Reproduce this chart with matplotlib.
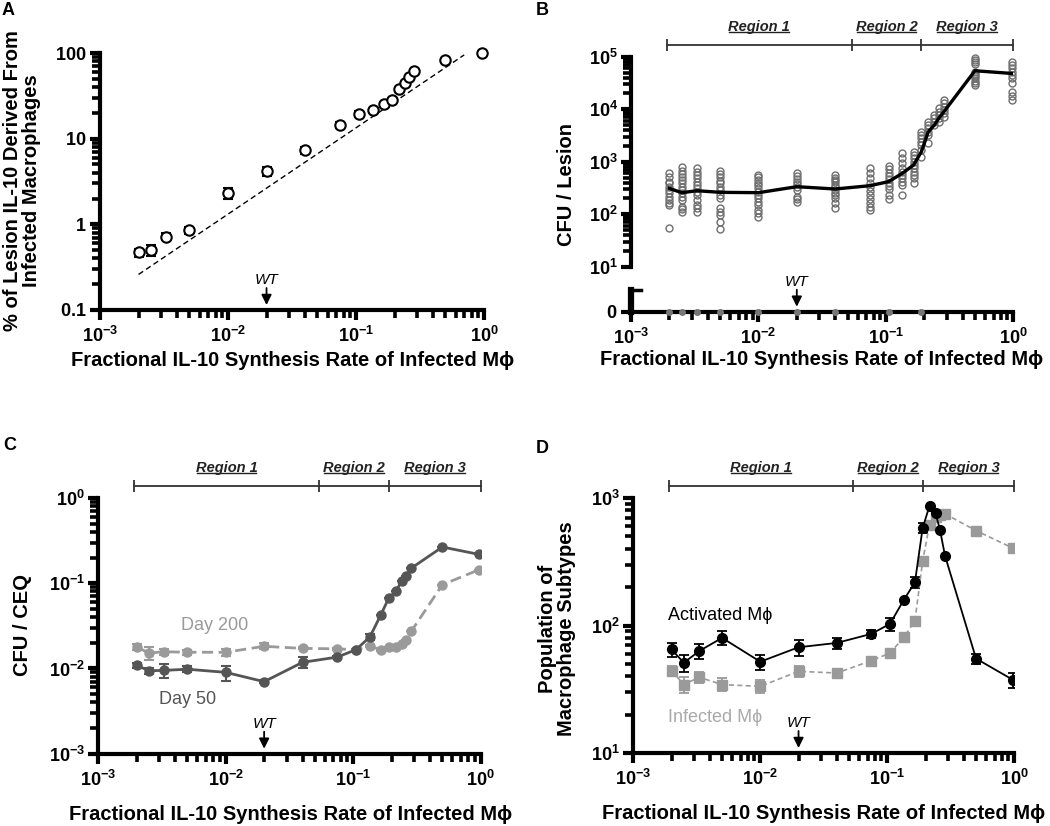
import math
import matplotlib
matplotlib.use("Agg")
import matplotlib.pyplot as plt
import matplotlib.transforms as mtransforms
from matplotlib import ticker
from matplotlib.lines import Line2D

plt.rcParams['font.family'] = ['Liberation Sans', 'DejaVu Sans']
plt.rcParams['mathtext.fontset'] = 'custom'
plt.rcParams['mathtext.rm'] = 'Liberation Sans'
plt.rcParams['mathtext.bf'] = 'Liberation Sans:bold'
plt.rcParams['mathtext.it'] = 'Liberation Sans:italic'

# ---------------- data ----------------
rate = [0.002, 0.0025, 0.0033, 0.005, 0.01, 0.02, 0.04, 0.075, 0.105,
        0.135, 0.165, 0.19, 0.215, 0.24, 0.26, 0.285, 0.5, 0.97]

# A: % of lesion IL-10 from infected macrophages
pct_il10 = [0.47, 0.50, 0.72, 0.85, 2.3, 4.2, 7.4, 14.5, 19.6, 21.6, 25.4,
            28.3, 37.7, 45, 53, 61.6, 83, 99]
pct_err = [0.05, 0.07, 0.07, 0.08, 0.35, 0.5, 0.7, 1.3, 1.6, 0, 0, 0, 0,
           0, 0, 0, 0, 0]
fit_x = [0.002, 0.7]
fit_y = [0.26, 95]

# B: CFU per lesion (each column = one rate)
cfu_cols = [
    [620, 517, 416, 388, 334, 289, 250, 215, 186, 161, 150, 54],
    [782, 674, 584, 505, 448, 388, 334, 289, 250, 215, 186, 139, 124, 112],
    [748, 646, 558, 483, 416, 360, 311, 269, 232, 186, 150, 129, 112],
    [674, 584, 505, 435, 388, 334, 289, 232, 201, 129, 112, 97, 72, 52],
    [558, 505, 448, 398, 360, 311, 269, 232, 201, 173, 150, 120, 104, 90],
    [601, 535, 475, 416, 371, 325, 289, 215, 192, 173],
    [558, 497, 448, 405, 360, 325, 289, 257, 229, 201, 161, 133],
    [748, 601, 483, 388, 334, 281, 232, 195, 161, 139, 120],
    [828, 716, 617, 535, 462, 398, 344, 298, 232, 192],
    [1445, 1161, 933, 748, 646, 558, 483, 416, 360, 232],
    [1549, 1343, 1161, 1000, 865, 748, 646, 558, 483, 388],
    [3726, 3228, 2793, 2404, 2080, 1671, 1245],
    [5780, 5000, 4325, 3726, 3228, 2240],
    [7745, 6710, 5780, 5000],
    [10400, 8950, 7745, 6710, 5780],
    [14960, 12900, 11170, 9640, 8340, 7200],
    [93000, 86000, 80000, 74000, 52000, 47000, 43000, 39000, 35000, 31000, 29000],
    [80400, 69500, 60100, 51800, 44800, 38800, 31100, 21500, 17800, 15000],
]
cfu_median = [310, 257, 280, 261, 257, 334, 302, 349, 417, 603, 865, 1550,
              3700, 5000, 6700, 8900, 54000, 48000]
zero_rates = [0.002, 0.0025, 0.0033, 0.005, 0.01, 0.02, 0.04, 0.105, 0.19]
zero_cfu = [0, 0, 0, 0, 0, 0, 0, 0, 0]

# C: CFU / CEQ
day50 = [0.0109, 0.0094, 0.0095, 0.0098, 0.0090, 0.0070, 0.0118, 0.0136,
         0.0166, 0.0234, 0.0428, 0.067, 0.080, 0.105, 0.12, 0.15, 0.266, 0.218]
day50_err = [0.0008, 0.0008, 0.0018, 0.0008, 0.0018, 0.0003, 0.0018, 0.0005,
             0.0005, 0.002, 0, 0, 0, 0, 0, 0, 0, 0]
day200 = [0.0178, 0.0152, 0.0157, 0.0155, 0.0155, 0.0182, 0.0172, 0.0170,
          0.0166, 0.0183, 0.0166, 0.0177, 0.0180, 0.0193, 0.0217, 0.0272,
          0.096, 0.144]
day200_err = [0.0015, 0.0025, 0.0012, 0.001, 0.0015, 0.0015, 0.0005, 0.0005,
              0.0005, 0.0005, 0.0005, 0, 0, 0, 0, 0, 0, 0]

# D: macrophage subtypes
activated = [65, 51, 63, 80, 52, 67.5, 73, 86, 103, 159, 218, 585, 866, 759,
             561, 351, 55, 37.6]
activated_err = [8, 8, 8, 10, 7, 10, 7, 6, 12, 0, 20, 50, 0, 0, 0, 0, 5, 5]
infected = [44.3, 34.4, 39.3, 34.4, 33.3, 43.7, 42.4, 53, 60.8, 80.7, 109,
            322, 614, 713, 740, 750, 555, 405]
infected_err = [4, 5, 4, 4, 4, 4, 3, 4, 4, 0, 0, 0, 0, 0, 0, 0, 0, 0]

region_edges = [0.0019, 0.054, 0.19, 1.0]
region_names = ['Region 1', 'Region 2', 'Region 3']
wt_rate = 0.02

xlabel = 'Fractional IL-10 Synthesis Rate of Infected M\u03d5'

# ---------------- figure ----------------
W, H = 1050, 826
fig = plt.figure(figsize=(W / 100, H / 100), dpi=100)


def box(l, t, r, b):
    # pixel box (top-left origin) -> figure fraction
    return [l / W, 1 - b / H, (r - l) / W, (b - t) / H]


def minor_positions(lo, hi):
    out = []
    e = lo
    while 10.0 ** e < hi:
        out += [k * 10.0 ** e for k in range(2, 10)]
        e += 1
    return out


def sci_fmt(v, pos):
    return r'$\mathbf{10^{%d}}$' % round(math.log10(v))


def plain_fmt(v, pos):
    return r'$\mathbf{%g}$' % v


def style(ax, ylo, yhi):
    ax.set_xscale('log')
    ax.set_yscale('log')
    ax.set_xlim(1e-3, 1)
    ax.set_ylim(10.0 ** ylo, 10.0 ** yhi)
    for s in ['top', 'right']:
        ax.spines[s].set_visible(False)
    for s in ['left', 'bottom']:
        ax.spines[s].set_linewidth(3.0)
    ax.xaxis.set_major_locator(ticker.FixedLocator([1e-3, 1e-2, 1e-1, 1]))
    ax.xaxis.set_minor_locator(ticker.FixedLocator(minor_positions(-3, 1)))
    ax.yaxis.set_major_locator(ticker.FixedLocator([10.0 ** e for e in range(ylo, yhi + 1)]))
    ax.yaxis.set_minor_locator(ticker.FixedLocator(minor_positions(ylo, 10.0 ** yhi)))
    ax.xaxis.set_major_formatter(ticker.FuncFormatter(sci_fmt))
    ax.yaxis.set_major_formatter(ticker.FuncFormatter(sci_fmt))
    ax.xaxis.set_minor_formatter(ticker.NullFormatter())
    ax.yaxis.set_minor_formatter(ticker.NullFormatter())
    ax.tick_params(which='major', direction='out', length=7.5, width=3.0,
                   color='black', labelsize=13, pad=2)
    ax.tick_params(which='minor', direction='out', length=6, width=2.6,
                   color='black')
    ax.tick_params(axis='x', which='major', pad=4)


def add_wt(ax):
    ax.annotate('', xy=(wt_rate, 5), xycoords=('data', 'axes pixels'),
                xytext=(wt_rate, 22), textcoords=('data', 'axes pixels'),
                arrowprops=dict(arrowstyle='-|>', color='black', lw=1.3,
                                mutation_scale=15, shrinkA=0, shrinkB=0),
                annotation_clip=False)
    ax.annotate('WT', xy=(wt_rate, 30), xycoords=('data', 'axes pixels'),
                ha='center', va='center', fontsize=11, style='italic',
                annotation_clip=False)


region_texts = []


def add_regions(ax):
    t_line = mtransforms.offset_copy(ax.get_xaxis_transform(), fig=fig, x=0, y=12, units='dots')
    ax.plot([region_edges[0], region_edges[-1]], [1, 1], color='#333333', lw=1.3,
            transform=t_line, clip_on=False)
    ax.plot(region_edges, [1] * len(region_edges), ls='none', marker='|',
            markersize=8, mew=1.3, color='#333333', transform=t_line, clip_on=False)
    t_lab = mtransforms.offset_copy(ax.get_xaxis_transform(), fig=fig, x=0, y=30, units='dots')
    for i, name in enumerate(region_names):
        xc = (region_edges[i] * region_edges[i + 1]) ** 0.5
        t = ax.text(xc, 1, name, transform=t_lab, ha='center', va='center',
                    fontsize=10.5, style='italic', fontweight='bold', color='#222222',
                    clip_on=False)
        region_texts.append(t)


def panel_letter(x, y, s):
    fig.text(x / W, 1 - y / H, s, fontsize=13, fontweight='bold', va='baseline')


def xlab(cx, base):
    fig.text(cx / W, 1 - base / H, xlabel, ha='center', va='baseline',
             fontsize=14.5, fontweight='bold')


def ylab(cx, cy, s):
    fig.text(cx / W, 1 - cy / H, s, ha='center', va='center', rotation=90,
             fontsize=14.5, fontweight='bold', linespacing=1.05)


# ---- A ----
axA = fig.add_axes(box(100, 53, 484, 310))
style(axA, -1, 2)
axA.yaxis.set_major_formatter(ticker.FuncFormatter(plain_fmt))
axA.plot(fit_x, fit_y, ls=(0, (4, 2.5)), color='black', lw=1.0)
axA.errorbar(rate, pct_il10, yerr=pct_err, fmt='o', mfc='white', mec='black',
             mew=1.5, ms=7.5, ecolor='black', elinewidth=1.4, capsize=3.5,
             capthick=1.4, clip_on=False, zorder=3)
add_wt(axA)
panel_letter(2, 15, 'A')
xlab(293, 366)
ylab(22, 181, '% of Lesion IL-10 Derived From\nInfected Macrophages')

# ---- B ----
axB = fig.add_axes(box(631, 56.7, 1013.3, 266.7))
axB0 = fig.add_axes(box(631, 290, 1013.3, 311.7))
style(axB, 1, 5)
style(axB0, 1, 2)
axB.spines['bottom'].set_visible(False)
axB.tick_params(axis='x', which='both', bottom=False, labelbottom=False)
for xv, col in zip(rate, cfu_cols):
    axB.plot([xv] * len(col), col, ls='none', marker='o', ms=5, mfc='none',
             mec='#6e6e6e', mew=1.0, clip_on=False)
axB.plot(rate, cfu_median, color='black', lw=2.4, zorder=4)

axB0.set_yscale('linear')
axB0.set_ylim(0, 1)
axB0.yaxis.set_major_locator(ticker.FixedLocator([0]))
axB0.yaxis.set_major_formatter(ticker.FuncFormatter(plain_fmt))
axB0.yaxis.set_minor_locator(ticker.NullLocator())
axB0.spines['left'].set_linewidth(4.5)
axB0.plot(zero_rates, zero_cfu, ls='none', marker='o', ms=4, color='#777777',
          clip_on=False, zorder=6)
axB0.plot([1e-3, 1.2e-3], [1, 1], color='black', lw=2.5, clip_on=False)
add_wt(axB0)
add_regions(axB)
panel_letter(536, 15, 'B')
xlab(822, 365)
ylab(567, 184, 'CFU / Lesion')

# ---- C ----
axC = fig.add_axes(box(98.3, 498, 480.7, 753.7))
style(axC, -3, 0)
axC.errorbar(rate, day200, yerr=day200_err, fmt='o', ls=(0, (4, 2)), lw=2,
             color='#9a9a9a', ms=6.5, capsize=3.5, elinewidth=1.5, capthick=1.5)
axC.errorbar(rate, day50, yerr=day50_err, fmt='o-', lw=2, color='#555555',
             ms=6.5, capsize=3.5, elinewidth=1.5, capthick=1.5)
fig.text(215 / W, 1 - 625 / H, 'Day 200', ha='center', va='center',
         fontsize=13, color='#9a9a9a')
fig.text(188 / W, 1 - 700 / H, 'Day 50', ha='center', va='center',
         fontsize=13, color='#555555')
add_wt(axC)
add_regions(axC)
panel_letter(3, 450, 'C')
xlab(291, 820)
ylab(23, 625, 'CFU / CEQ')

# ---- D ----
axD = fig.add_axes(box(633.3, 498, 1014.3, 753))
style(axD, 1, 3)
axD.errorbar(rate, infected, yerr=infected_err, fmt='s', ls=(0, (3, 2)), lw=1.2,
             color='#9a9a9a', ms=6.5, capsize=3.5, elinewidth=1.3, capthick=1.3)
axD.errorbar(rate, activated, yerr=activated_err, fmt='o-', lw=1.3,
             color='black', ms=7, capsize=3.5, elinewidth=1.3, capthick=1.3)
fig.text(720 / W, 1 - 616 / H, 'Activated M\u03d5', ha='center', va='center',
         fontsize=13, color='black')
fig.text(715 / W, 1 - 718 / H, 'Infected M\u03d5', ha='center', va='center',
         fontsize=13, color='#aaaaaa')
add_wt(axD)
add_regions(axD)
panel_letter(536, 453, 'D')
xlab(824, 819)
ylab(557, 629, 'Population of\nMacrophage Subtypes')

# underline the region labels
fig.canvas.draw()
r = fig.canvas.get_renderer()
inv = fig.transFigure.inverted()
for t in region_texts:
    bb = t.get_window_extent(r)
    (x0, y0), (x1, _) = inv.transform([[bb.x0 + 1, bb.y0 + 1.5], [bb.x1 - 1, bb.y0]])
    fig.add_artist(Line2D([x0, x1], [y0, y0], transform=fig.transFigure,
                          color='#222222', lw=1.0))

fig.savefig('out.png', dpi=100)
